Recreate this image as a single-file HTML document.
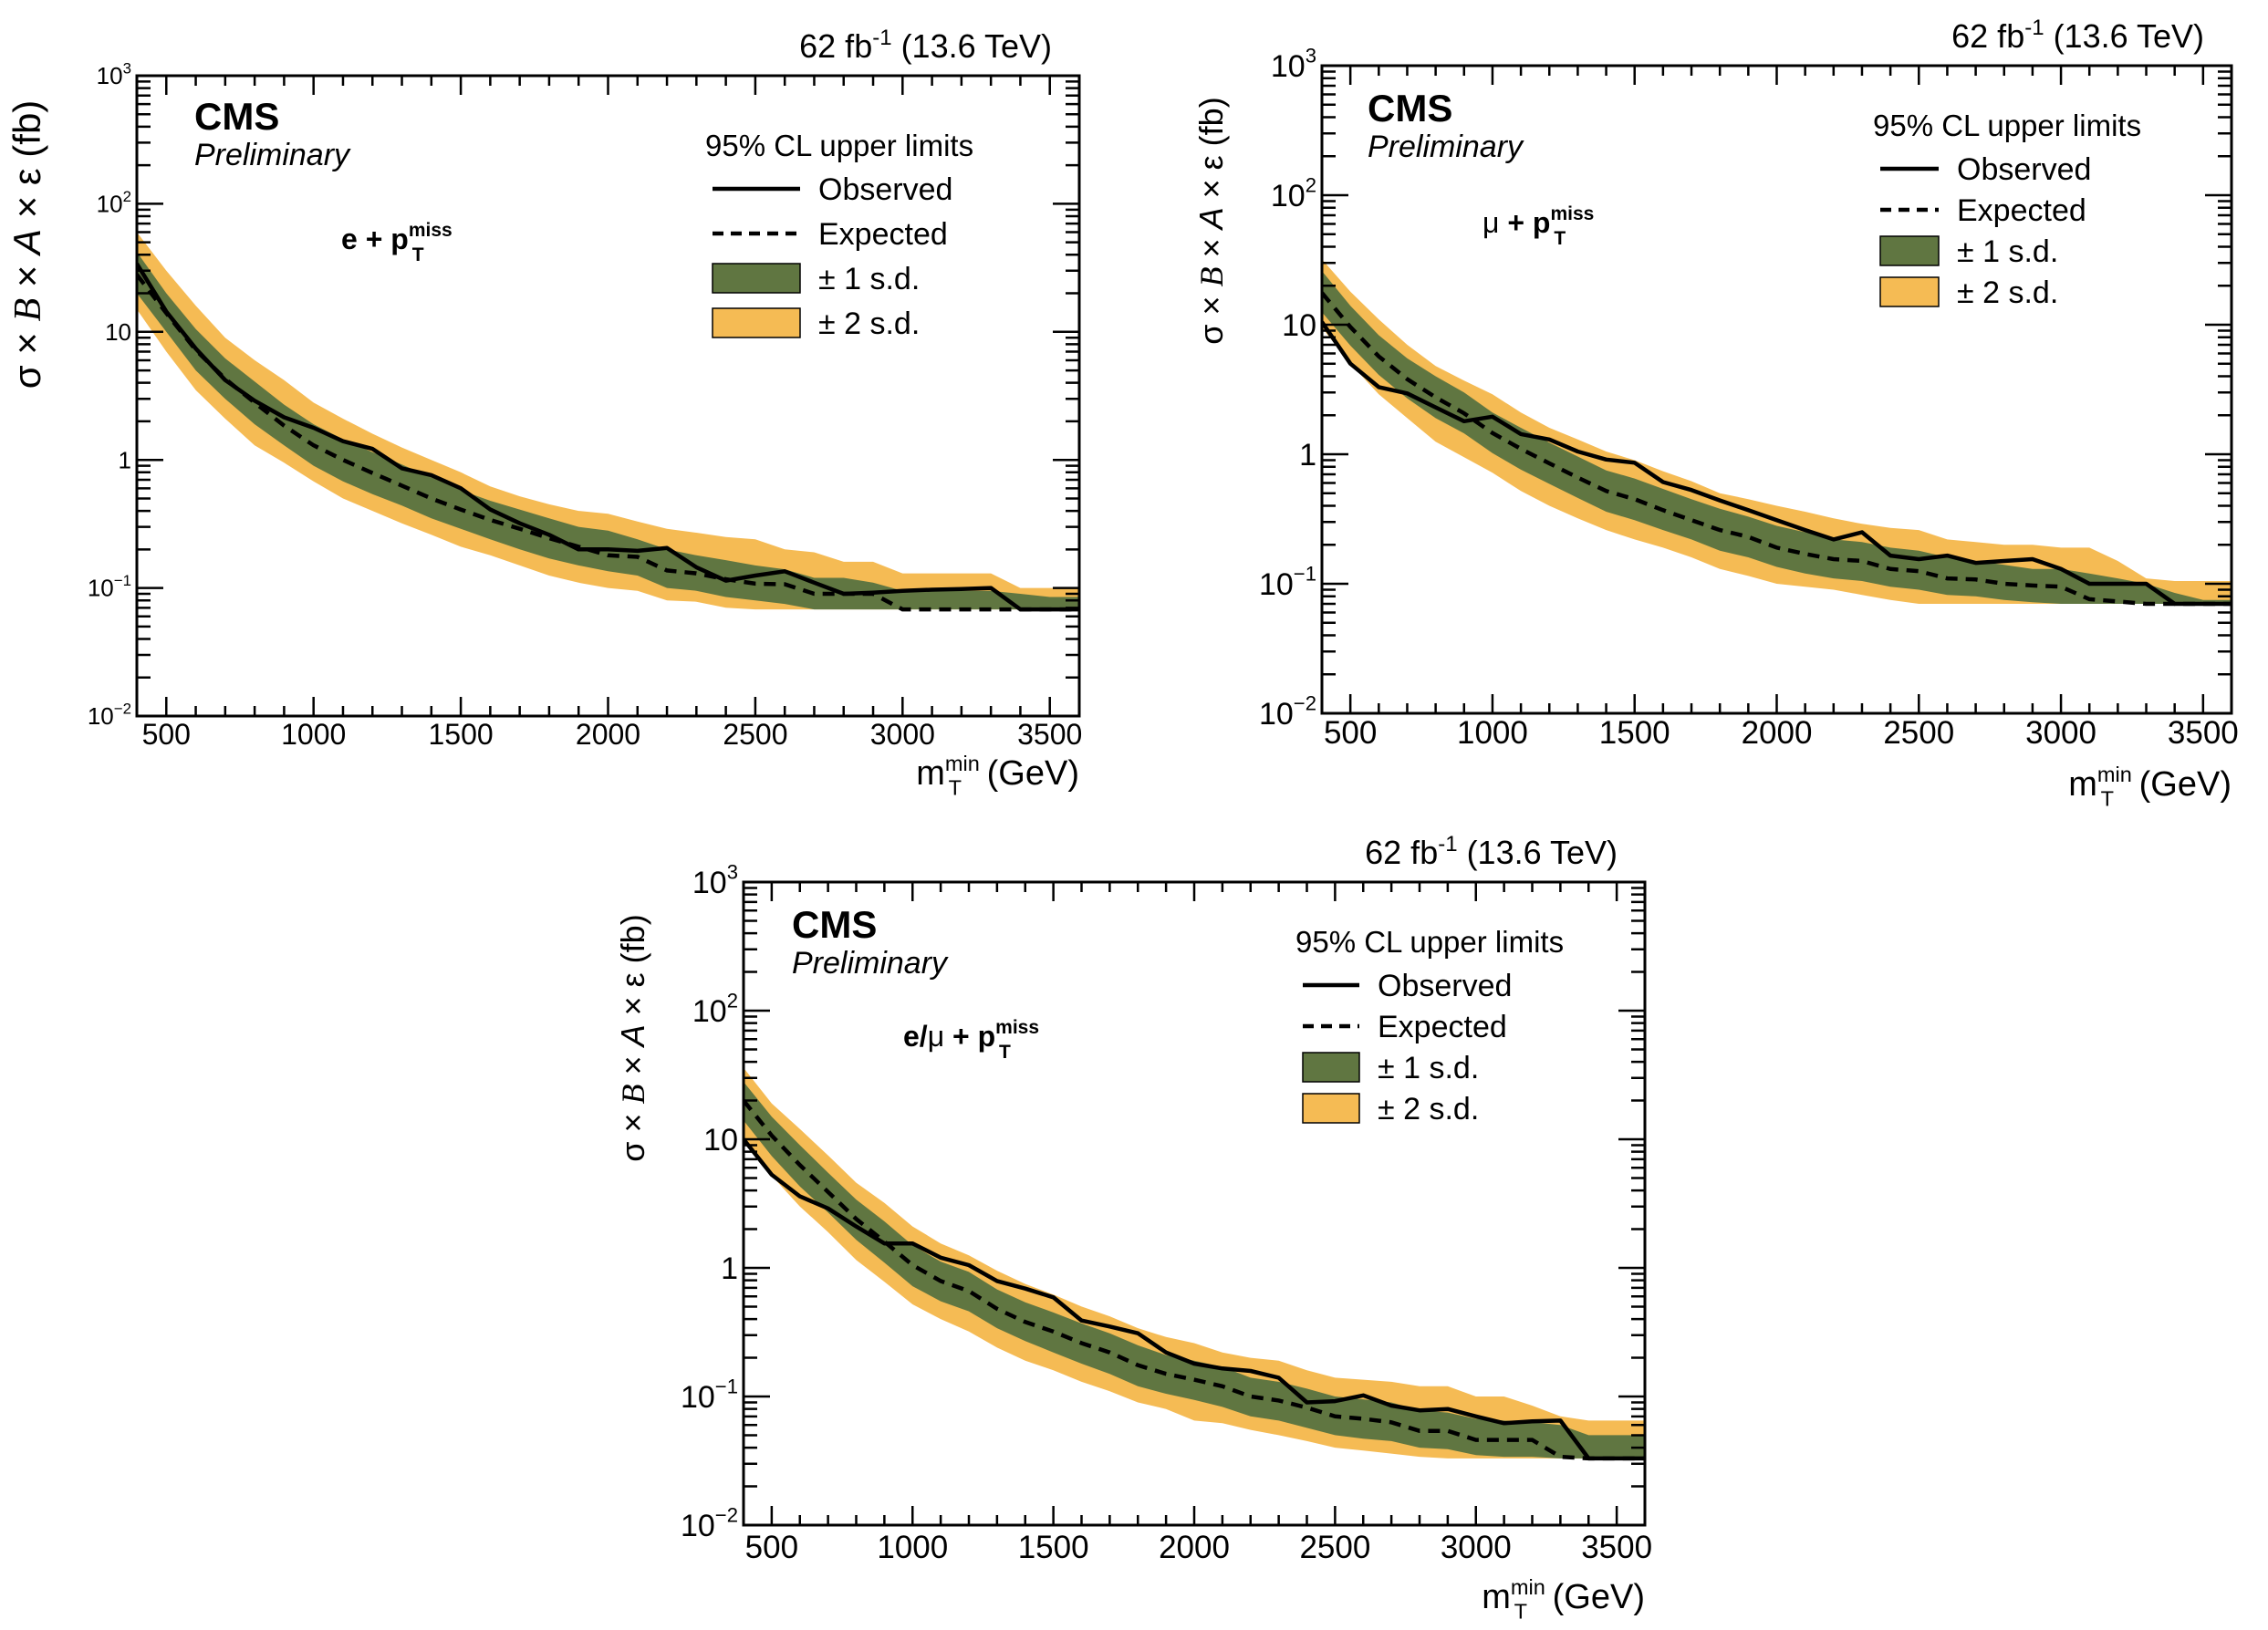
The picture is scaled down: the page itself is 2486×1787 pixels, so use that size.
<!DOCTYPE html>
<html><head><meta charset="utf-8"><style>
html,body{margin:0;padding:0;background:#fff;}
svg{display:block;font-family:"Liberation Sans",sans-serif;}
</style></head><body>
<svg id="fig" width="2486" height="1787" viewBox="0 0 2486 1787" xmlns="http://www.w3.org/2000/svg"></svg>
<script>
// ---- data (x = mT min in GeV, 400..3600 step 100) ----
const massPoints = [400,500,600,700,800,900,1000,1100,1200,1300,1400,1500,1600,1700,1800,1900,2000,2100,2200,2300,2400,2500,2600,2700,2800,2900,3000,3100,3200,3300,3400,3500,3600];

// panel 1: e + pTmiss
const eObs = [34,14.4,7.4,4.2,2.9,2.15,1.78,1.4,1.22,0.86,0.76,0.6,0.41,0.32,0.26,0.2,0.2,0.195,0.205,0.145,0.114,0.125,0.135,0.11,0.09,0.092,0.095,0.097,0.098,0.1,0.068,0.068,0.068];
const eExp = [28,14,7.2,4.3,2.8,1.85,1.3,1.0,0.79,0.63,0.5,0.41,0.34,0.29,0.245,0.21,0.18,0.175,0.137,0.13,0.117,0.108,0.107,0.09,0.09,0.09,0.068,0.068,0.068,0.068,0.068,0.068,0.068];
const eHi2 = [60,30,16,9,6,4.2,2.8,2.1,1.6,1.25,1.0,0.8,0.62,0.52,0.45,0.4,0.38,0.33,0.29,0.27,0.25,0.24,0.2,0.19,0.16,0.16,0.13,0.13,0.13,0.13,0.1,0.1,0.1];
const eHi1 = [42,20,10.5,6.2,4.1,2.7,1.9,1.45,1.15,0.92,0.73,0.58,0.48,0.41,0.35,0.3,0.28,0.24,0.2,0.18,0.165,0.15,0.14,0.12,0.12,0.11,0.095,0.095,0.095,0.095,0.09,0.085,0.085];
const eLo1 = [20,10,5,3,1.9,1.3,0.9,0.68,0.54,0.44,0.35,0.29,0.24,0.2,0.17,0.15,0.135,0.125,0.1,0.095,0.085,0.08,0.075,0.068,0.068,0.068,0.068,0.068,0.068,0.068,0.068,0.068,0.068];
const eLo2 = [15,7,3.5,2.1,1.3,0.95,0.68,0.5,0.4,0.32,0.26,0.21,0.18,0.15,0.125,0.11,0.1,0.095,0.08,0.078,0.07,0.068,0.068,0.068,0.068,0.068,0.068,0.068,0.068,0.068,0.068,0.068,0.068];

// panel 2: mu + pTmiss
const mObs = [10.5,5.0,3.3,2.95,2.3,1.8,1.95,1.43,1.3,1.05,0.91,0.86,0.61,0.53,0.44,0.37,0.31,0.26,0.22,0.25,0.165,0.155,0.165,0.145,0.15,0.155,0.13,0.1,0.1,0.1,0.07,0.07,0.07];
const mExp = [17.6,9.6,5.7,3.8,2.75,2.07,1.46,1.1,0.85,0.66,0.52,0.45,0.37,0.31,0.26,0.23,0.19,0.17,0.155,0.15,0.13,0.125,0.11,0.108,0.1,0.097,0.095,0.076,0.073,0.07,0.07,0.07,0.07];
const mHi2 = [32,18,11,7,4.8,3.7,2.9,2.1,1.6,1.3,1.05,0.9,0.74,0.62,0.5,0.45,0.4,0.36,0.32,0.29,0.27,0.26,0.22,0.21,0.2,0.2,0.19,0.19,0.15,0.11,0.105,0.105,0.105];
const mHi1 = [26,14,8.3,5.5,4,3,2.1,1.6,1.23,0.96,0.75,0.65,0.54,0.45,0.38,0.33,0.28,0.25,0.22,0.21,0.19,0.18,0.16,0.15,0.14,0.13,0.13,0.12,0.11,0.1,0.085,0.075,0.075];
const mLo1 = [12.5,6.9,4.1,2.7,1.9,1.45,1.02,0.76,0.59,0.46,0.36,0.31,0.26,0.22,0.18,0.16,0.135,0.12,0.11,0.105,0.095,0.09,0.082,0.08,0.075,0.072,0.07,0.07,0.07,0.07,0.07,0.07,0.07];
const mLo2 = [9.5,5,2.9,1.9,1.25,0.95,0.72,0.52,0.4,0.32,0.26,0.22,0.19,0.16,0.13,0.115,0.1,0.095,0.09,0.082,0.075,0.07,0.07,0.07,0.07,0.07,0.07,0.07,0.07,0.07,0.07,0.07,0.07];

// panel 3: e/mu + pTmiss
const cObs = [10,5.3,3.6,2.9,2.1,1.55,1.55,1.2,1.05,0.79,0.69,0.59,0.39,0.35,0.31,0.22,0.18,0.165,0.158,0.14,0.09,0.092,0.102,0.085,0.078,0.08,0.07,0.062,0.064,0.065,0.033,0.033,0.033];
const cExp = [20,10.7,6.3,3.9,2.4,1.6,1.05,0.79,0.66,0.48,0.38,0.32,0.26,0.22,0.175,0.15,0.135,0.12,0.1,0.093,0.082,0.07,0.067,0.063,0.054,0.054,0.046,0.046,0.046,0.034,0.033,0.033,0.033];
const cHi2 = [36,19,12,7.5,4.6,3.2,2.1,1.55,1.25,0.95,0.75,0.62,0.5,0.42,0.34,0.29,0.26,0.22,0.2,0.19,0.16,0.14,0.135,0.13,0.12,0.12,0.1,0.1,0.085,0.07,0.065,0.065,0.065];
const cHi1 = [28,15,9,5.5,3.4,2.3,1.5,1.12,0.93,0.68,0.54,0.45,0.37,0.31,0.25,0.21,0.19,0.17,0.14,0.13,0.115,0.1,0.095,0.09,0.078,0.075,0.067,0.065,0.063,0.06,0.05,0.05,0.05];
const cLo1 = [14,7.4,4.3,2.7,1.65,1.1,0.72,0.55,0.46,0.34,0.27,0.22,0.18,0.15,0.12,0.105,0.094,0.083,0.07,0.065,0.057,0.05,0.047,0.045,0.04,0.039,0.035,0.034,0.034,0.033,0.033,0.033,0.033];
const cLo2 = [10,5.2,3,1.9,1.15,0.78,0.52,0.4,0.32,0.24,0.19,0.16,0.13,0.11,0.09,0.08,0.065,0.062,0.055,0.05,0.045,0.04,0.038,0.036,0.034,0.033,0.033,0.033,0.033,0.033,0.033,0.033,0.033];

const xTickValues = [500,1000,1500,2000,2500,3000,3500];
const yDecades = [-2,-1,0,1,2,3];
const yDecadeLabels = ["10","10","1","10","10","10"];
const yDecadeSups = ["\u22122","\u22121","","","2","3"];

const NS = "http://www.w3.org/2000/svg";
const svg = document.getElementById("fig");
const GREEN = "#607641", YELLOW = "#F5BB54";

function mk(tag, attrs, parent){
  const e = document.createElementNS(NS, tag);
  for (const k in attrs) e.setAttribute(k, attrs[k]);
  (parent||svg).appendChild(e);
  return e;
}

function drawPanel(p, obs, exp, hi2, hi1, lo1, lo2){
  const g = mk("g", {});
  
  
  const xS = v => p.L + (v - 400) / 3200 * (p.R - p.L);
  const yS = v => p.B - (Math.log10(v) + 2) / 5 * (p.B - p.T);
  const band = (hi, lo) => {
    let d = "";
    massPoints.forEach((m,i)=>{ d += (i?"L":"M") + xS(m).toFixed(1) + "," + yS(hi[i]).toFixed(1); });
    for (let i = massPoints.length-1; i>=0; i--) d += "L" + xS(massPoints[i]).toFixed(1) + "," + yS(lo[i]).toFixed(1);
    return d + "Z";
  };
  const line = arr => massPoints.map((m,i)=>(i?"L":"M")+xS(m).toFixed(1)+","+yS(arr[i]).toFixed(1)).join("");
  const clipId = "clip-" + p.name;
  const cp = mk("clipPath", {id: clipId}, g);
  mk("rect", {x:p.L, y:p.T, width:p.R-p.L, height:p.B-p.T}, cp);
  const dg = mk("g", {"clip-path":"url(#"+clipId+")"}, g);
  const b2 = mk("path", {d: band(hi2, lo2), fill: YELLOW}, dg);
  
  
  const b1 = mk("path", {d: band(hi1, lo1), fill: GREEN}, dg);
  
  
  const le = mk("path", {d: line(exp), fill:"none", stroke:"#000", "stroke-width":4.5, "stroke-dasharray":"13,9"}, dg);
  
  
  const lo = mk("path", {d: line(obs), fill:"none", stroke:"#000", "stroke-width":4.5, "stroke-linejoin":"round"}, dg);
  
  

  // ticks
  let td = "";
  for (let m = 400; m <= 3600; m += 100){
    const x = xS(m), len = (m % 500 === 0) ? 21 : 11;
    td += `M${x},${p.B}v${-len}M${x},${p.T}v${len}`;
  }
  for (let dcd = -2; dcd < 3; dcd++){
    for (let k = 1; k <= 9; k++){
      const y = yS(k * Math.pow(10, dcd)), len = k===1 ? 29 : 15;
      td += `M${p.L},${y}h${len}M${p.R},${y}h${-len}`;
    }
  }
  mk("path", {d: td, stroke:"#000", "stroke-width":2.5, fill:"none"}, g);
  const fr = mk("rect", {x:p.L, y:p.T, width:p.R-p.L, height:p.B-p.T, fill:"none", stroke:"#000", "stroke-width":3}, g);
  
  

  // x tick labels
  xTickValues.forEach(v=>{
    const t = mk("text", {x:xS(v), y:p.tickY, "font-size":p.tfs, "text-anchor":"middle"}, g);
    t.textContent = v;
    
    
  });
  // y tick labels
  yDecades.forEach((d,i)=>{
    const t = mk("text", {x:p.L-6, y:yS(Math.pow(10,d))+p.yfs*0.35, "font-size":p.yfs, "text-anchor":"end"}, g);
    
    
    const a = mk("tspan", {}, t); a.textContent = yDecadeLabels[i];
    if (yDecadeSups[i]) { const s = mk("tspan", {dy:-p.yfs*0.45, "font-size":p.yfs*0.65}, t); s.textContent = yDecadeSups[i]; }
  });
  // x title
  const xt = mk("text", {x:p.R, y:p.xtY, "font-size":p.xtfs, "text-anchor":"end"}, g);
  
  
  let s = mk("tspan", {}, xt); s.textContent = "m";
  s = mk("tspan", {dy:-p.xtfs*0.4, "font-size":p.xtfs*0.62}, xt); s.textContent = "min";
  s = mk("tspan", {dx:-p.xtfs*0.9, dy:p.xtfs*0.7, "font-size":p.xtfs*0.62}, xt); s.textContent = "T";
  s = mk("tspan", {dx:p.xtfs*0.45, dy:-p.xtfs*0.3}, xt); s.textContent = " (GeV)";
  // y title
  const yt = mk("text", {x:0, y:0, "font-size":p.ytfs, "text-anchor":"middle", transform:`translate(${p.ytX},${p.ytY}) rotate(-90)`}, g);
  
  
  yt.innerHTML = 'σ × <tspan font-family="Liberation Serif,serif" font-style="italic">B</tspan> × <tspan font-style="italic">A</tspan> × ε (fb)';
  // header
  const hd = mk("text", {x:p.R-30, y:p.T-20, "font-size":36, "text-anchor":"end"}, g);
  
  
  hd.innerHTML = '62 fb<tspan dy="-14" font-size="24">-1</tspan><tspan dy="14"> (13.6 TeV)</tspan>';
  // CMS
  const cms = mk("text", {x:p.cmsX, y:p.cmsY, "font-size":42, "font-weight":"bold"}, g);
  cms.textContent = "CMS";
  
  
  const pr = mk("text", {x:p.cmsX, y:p.cmsY+39, "font-size":34, "font-style":"italic"}, g);
  pr.textContent = "Preliminary";
  
  
  // channel label
  const ch = mk("text", {x:p.chX, y:p.chY, "font-size":32, "font-weight":"bold"}, g);
  
  
  ch.innerHTML = p.chHtml + ' + p<tspan dy="-14" font-size="21">miss</tspan><tspan dx="-44" dy="27" font-size="21">T</tspan>';
  // legend
  const lg = mk("g", {}, g);
  
  
  const lt = mk("text", {x:p.lgX-8, y:p.lgY, "font-size":33}, lg);
  lt.textContent = "95% CL upper limits";
  const rows = ["Observed","Expected","± 1 s.d.","± 2 s.d."];
  rows.forEach((r,i)=>{
    const cy = p.lgY + 36 + i*p.lgDy;
    const ent = mk("g", {}, lg);
    
    
    if (i===0) mk("line", {x1:p.lgX, x2:p.lgX+p.lgW, y1:cy, y2:cy, stroke:"#000", "stroke-width":4.5}, ent);
    if (i===1) mk("line", {x1:p.lgX, x2:p.lgX+p.lgW, y1:cy, y2:cy, stroke:"#000", "stroke-width":4.5, "stroke-dasharray":"12,8"}, ent);
    if (i>=2) mk("rect", {x:p.lgX, y:cy-16, width:p.lgW, height:32, fill: i===2?GREEN:YELLOW, stroke:"#000", "stroke-width":1.5}, ent);
    const tt = mk("text", {x:p.lgX+p.lgW+20, y:cy+12, "font-size":34}, ent);
    tt.textContent = r;
  });
}

drawPanel({name:"panel-electron", L:150, R:1183, T:83, B:785, tickY:816, tfs:32, yfs:26, xtY:860, xtfs:38, ytX:44, ytY:268, ytfs:42,
  cmsX:213, cmsY:142, chX:374, chY:273, chHtml:"e", lgX:781, lgY:171, lgDy:49, lgW:96},
  eObs, eExp, eHi2, eHi1, eLo1, eLo2);
drawPanel({name:"panel-muon", L:1449, R:2446, T:72, B:782, tickY:815, tfs:35, yfs:34, xtY:872, xtfs:38, ytX:1340, ytY:242, ytfs:36,
  cmsX:1499, cmsY:133, chX:1625, chY:255, chHtml:'<tspan font-weight="normal">μ</tspan>', lgX:2061, lgY:149, lgDy:45, lgW:64},
  mObs, mExp, mHi2, mHi1, mLo1, mLo2);
drawPanel({name:"panel-combined", L:815, R:1803, T:967, B:1672, tickY:1708, tfs:35, yfs:34, xtY:1763, xtfs:38, ytX:706, ytY:1138, ytfs:36,
  cmsX:868, cmsY:1028, chX:990, chY:1147, chHtml:'e/<tspan font-weight="normal">μ</tspan>', lgX:1428, lgY:1044, lgDy:45, lgW:62},
  cObs, cExp, cHi2, cHi1, cLo1, cLo2);
</script>
</body></html>
